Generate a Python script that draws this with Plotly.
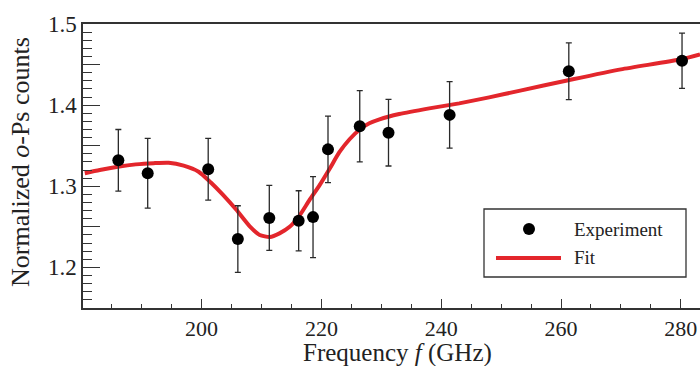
import plotly.graph_objects as go

# Experimental data
freq = [186.1, 191.0, 201.1, 206.05, 211.3, 216.2, 218.6, 221.1, 226.4, 231.2, 241.4, 261.3, 280.2]
counts = [1.332, 1.316, 1.321, 1.235, 1.261, 1.2575, 1.262, 1.3455, 1.374, 1.366, 1.388, 1.4417, 1.4547]
errors = [0.038, 0.043, 0.038, 0.041, 0.040, 0.037, 0.050, 0.041, 0.044, 0.041, 0.041, 0.035, 0.034]

# Fit curve
fit_freq = [180.5, 183, 186, 189, 192, 194.5, 197, 199.5, 201.5, 203.5, 205.8, 208, 209.7,
            211.4, 213, 214.7, 216.4, 218, 219.7, 221.4, 223, 224.7, 226.4, 228, 229.7,
            233, 238, 243, 248, 253, 261.4, 270, 280, 283.2]
fit_counts = [1.316, 1.320, 1.324, 1.327, 1.3285, 1.329, 1.3255, 1.318, 1.305, 1.290, 1.271, 1.251, 1.240,
              1.2375, 1.242, 1.250, 1.2645, 1.283, 1.3015, 1.322, 1.342, 1.358, 1.370, 1.3776, 1.3825,
              1.389, 1.396, 1.4022, 1.4096, 1.4176, 1.431, 1.4441, 1.4565, 1.4626]

y_tickvals = [1.15, 1.2, 1.25, 1.3, 1.35, 1.4, 1.45, 1.5]
y_ticktext = ["", "1.2", "", "1.3", "", "1.4", "", "1.5"]
x_tickvals = [200, 220, 240, 260, 280]

FONT = "Liberation Serif, Times New Roman, serif"
TXT = "#222222"
AX = "#333333"
RED = "#e3262c"

fig = go.Figure()
fig.add_trace(go.Scatter(
    x=fit_freq, y=fit_counts, mode="lines", line=dict(color=RED, width=4, shape="spline", smoothing=0.6),
    name="Fit", showlegend=False, hoverinfo="skip"))
fig.add_trace(go.Scatter(
    x=freq, y=counts, mode="markers", name="Experiment", showlegend=False,
    marker=dict(color="black", size=12),
    error_y=dict(type="data", array=errors, color="#2a2a2a", thickness=1.3, width=3)))

L, T, B = 83, 24, 58
W, H = 700, 366
pw, ph = W - L, H - T - B

def px(xpix):
    return (xpix - L) / pw

def py(ypix):
    return (H - B - ypix) / ph

# Legend box drawn manually
shapes = [
    dict(type="rect", xref="paper", yref="paper", x0=px(484), x1=px(686), y0=py(277), y1=py(209),
         line=dict(color=AX, width=1.3), fillcolor="white", layer="above"),
    dict(type="line", xref="paper", yref="paper", x0=px(496), x1=px(561), y0=py(258), y1=py(258),
         line=dict(color=RED, width=4), layer="above"),
    dict(type="circle", xref="paper", yref="paper", x0=px(523), x1=px(535), y0=py(235), y1=py(223),
         line=dict(color="black", width=0), fillcolor="black", layer="above"),
]
annotations = [
    dict(text="Experiment", xref="paper", yref="paper", x=px(572), y=py(229), xanchor="left", yanchor="middle",
         showarrow=False, font=dict(family=FONT, size=19, color=TXT)),
    dict(text="Fit", xref="paper", yref="paper", x=px(572), y=py(257), xanchor="left", yanchor="middle",
         showarrow=False, font=dict(family=FONT, size=19, color=TXT)),
    dict(text="Frequency <i>f</i> (GHz)", xref="paper", yref="paper", x=px(397), y=py(353),
         xanchor="center", yanchor="middle", showarrow=False, font=dict(family=FONT, size=25, color=TXT)),
    dict(text="Normalized <i>o</i>-Ps counts", xref="paper", yref="paper", x=px(20), y=py(162),
         xanchor="center", yanchor="middle", textangle=-90, showarrow=False,
         font=dict(family=FONT, size=26, color=TXT)),
]

fig.update_layout(
    width=W, height=H,
    margin=dict(l=L, r=0, t=T, b=B, autoexpand=False),
    plot_bgcolor="white", paper_bgcolor="white",
    showlegend=False,
    shapes=shapes, annotations=annotations,
    font=dict(family=FONT, color=TXT),
    xaxis=dict(
        range=[180.2, 283.2], tickvals=x_tickvals, ticks="inside", ticklen=9, tickwidth=1.3, tickcolor=AX,
        showline=True, linecolor=AX, linewidth=1.5, mirror=True, showgrid=False, zeroline=False,
        automargin=False,
        tickfont=dict(family=FONT, size=22, color=TXT),
        minor=dict(dtick=5, tick0=0, ticks="inside", ticklen=4, tickwidth=1.2, tickcolor=AX, showgrid=False),
    ),
    yaxis=dict(
        range=[1.15, 1.5], tickvals=y_tickvals, ticktext=y_ticktext, ticks="inside", ticklen=17, tickwidth=1.3,
        tickcolor=AX, showline=True, linecolor=AX, linewidth=1.5, mirror=False, showgrid=False, zeroline=False,
        automargin=False,
        tickfont=dict(family=FONT, size=23, color=TXT),
        minor=dict(dtick=0.01, tick0=0, ticks="inside", ticklen=9, tickwidth=1.2, tickcolor=AX, showgrid=False),
    ),
)

fig.write_html("out.html", config={"displayModeBar": False},
               post_script="document.body.style.margin='0px';document.body.style.overflow='hidden';")
